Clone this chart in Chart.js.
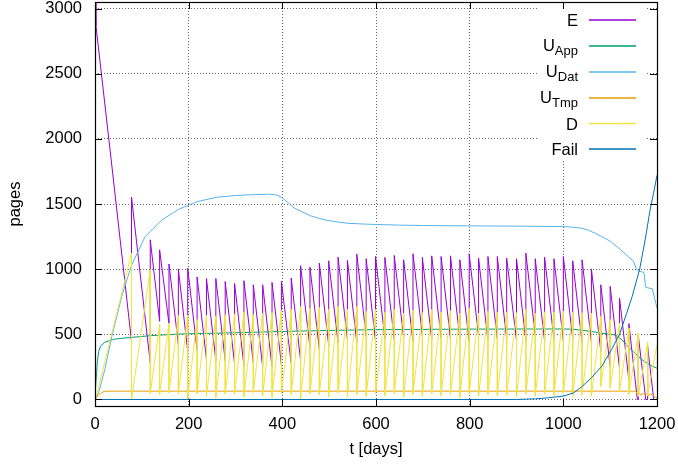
<!DOCTYPE html>
<html lang="en">
<head>
<meta charset="UTF-8">
<title>pages over time</title>
<style>
  html, body { margin: 0; padding: 0; background: #fff; }
  canvas { display: block; }
</style>
</head>
<body>
<canvas id="chart" width="678" height="465"></canvas>
<script src="https://cdn.jsdelivr.net/npm/chart.js@4"></script>
<script>
// days where the sawtooth jumps (E goes up, D drops)
const jumpT = [78, 118, 138, 158, 178, 198, 218, 238, 258, 278, 298, 318, 338, 358, 378, 398,
  419, 439, 459, 479, 499, 519, 539, 559, 579, 599, 619, 639, 659, 679, 699, 719, 739, 759, 779, 799, 819, 839, 859, 879,
  900, 920, 940, 960, 980, 1000, 1020, 1040, 1060, 1080, 1100, 1120, 1140, 1160, 1180];

// E just before / just after each jump
const eBefore = [447, 281, 600, 582, 421, 370, 375, 310, 300, 298, 275, 260, 281, 250, 250, 268,
  276, 300, 396, 386, 416, 434, 462, 437, 485, 450, 467, 460, 475, 442, 488, 460, 472, 467, 472, 442, 488, 455, 467, 467,
  455, 450, 493, 450, 462, 450, 467, 434, 442, 370, 250, 238, 148, 0, 0];
const eAfter = [1552, 1225, 1148, 1039, 1000, 1008, 940, 928, 928, 905, 890, 911, 880, 880, 898, 906,
  931, 1026, 1016, 1046, 1064, 1092, 1067, 1115, 1080, 1097, 1090, 1105, 1072, 1118, 1090, 1102, 1097, 1102, 1072, 1118, 1085, 1097, 1097, 1085,
  1080, 1123, 1080, 1092, 1080, 1097, 1064, 1072, 1000, 880, 868, 778, 582, 493, 408];
const eStartT = [0, 2, 37];
const eStartV = [3050, 2870, 1761];
const eZeroT = [1158, 1176, 1193, 1200];

// D just before / just after each jump
const dBefore = [1123, 995, 574, 587, 643, 645, 612, 643, 638, 650, 655, 668, 650, 660, 665, 682,
  690, 712, 700, 705, 690, 715, 690, 712, 675, 690, 668, 690, 660, 685, 665, 690, 668, 680, 662, 700, 660, 675, 668, 670,
  665, 690, 660, 672, 668, 675, 668, 665, 660, 638, 612, 587, 548, 510, 440];
const dAfter = [0, 46, 38, 51, 45, 10, 45, 25, 15, 43, 40, 19, 50, 30, 17, 45,
  35, 5, 45, 35, 20, 50, 20, 40, 25, 45, 30, 45, 20, 40, 25, 45, 30, 40, 15, 45, 25, 40, 30, 35,
  20, 45, 25, 40, 30, 45, 25, 35, 25, 100, 90, 60, 40, 25, 30];
const dStartT = [0, 3];
const dStartV = [0, 25];
const dEndT = [1200];
const dEndV = [420];

const appT = [0, 1, 3, 5, 8, 12, 21, 40, 64, 120, 185, 300, 400, 500, 600, 800, 1000, 1020, 1040, 1060, 1080, 1100,
  1110, 1120, 1130, 1140, 1150, 1160, 1170, 1180, 1190, 1200];
const appV = [0, 80, 180, 290, 370, 410, 440, 462, 472, 490, 503, 512, 522, 530, 536, 540, 541, 539, 531, 522, 510, 500,
  495, 475, 440, 400, 365, 330, 300, 275, 255, 240];

const datT = [0, 3, 10, 21, 36, 57, 78, 107, 143, 179, 220, 260, 300, 340, 370, 388, 398, 412, 425, 441, 460, 477, 495,
  512, 540, 570, 598, 650, 700, 800, 900, 1000, 1020, 1039, 1054, 1068, 1082, 1100, 1122, 1139, 1150, 1156, 1161,
  1172, 1176, 1190, 1200];
const datV = [0, 10, 80, 230, 485, 791, 1030, 1250, 1378, 1460, 1520, 1552, 1565, 1572, 1575, 1570, 1552, 1511, 1470,
  1442, 1410, 1391, 1375, 1365, 1352, 1347, 1343, 1338, 1335, 1332, 1330, 1327, 1322, 1314, 1298, 1276, 1250, 1215,
  1150, 1095, 1060, 1000, 985, 975, 860, 850, 700];

const tmpT = [0, 3, 8, 14, 20, 30, 1150, 1155, 1158, 1162, 1166, 1170, 1174, 1178, 1182, 1186, 1190, 1194, 1200];
const tmpV = [0, 15, 38, 52, 62, 64, 64, 62, 40, 50, 32, 48, 36, 45, 30, 42, 35, 25, 10];

const failT = [0, 900, 940, 968, 1000, 1022, 1039, 1060, 1082, 1103, 1120, 1135, 1147, 1163, 1175, 1185, 1193, 1200];
const failV = [0, 0, 5, 13, 26, 51, 97, 166, 255, 383, 500, 660, 790, 1000, 1230, 1450, 1590, 1720];

const xTicks = [0, 200, 400, 600, 800, 1000, 1200];
const yTicks = [0, 500, 1000, 1500, 2000, 2500, 3000];

const legendItems = [
  { main: 'E', sub: '', color: '#9400d3' },
  { main: 'U', sub: 'App', color: '#009e73' },
  { main: 'U', sub: 'Dat', color: '#56b4e9' },
  { main: 'U', sub: 'Tmp', color: '#e69f00' },
  { main: 'D', sub: '', color: '#f0e442' },
  { main: 'Fail', sub: '', color: '#0072b2' }
];

function pts(ts, vs) {
  return ts.map((t, i) => ({ x: t, y: vs[i] }));
}

const ePts = pts(eStartT, eStartV);
jumpT.forEach((t, i) => ePts.push({ x: t, y: eBefore[i] }, { x: t, y: eAfter[i] }));
eZeroT.forEach(t => ePts.push({ x: t, y: 0 }));
ePts.sort((a, b) => a.x - b.x);

const dPts = pts(dStartT, dStartV);
jumpT.forEach((t, i) => dPts.push({ x: t, y: dBefore[i] }, { x: t, y: dAfter[i] }));
dEndT.forEach((t, i) => dPts.push({ x: t, y: dEndV[i] }));

const FONT = '"Liberation Sans", Arial, sans-serif';
const tickFont = { family: FONT, size: 16.5 };

// gnuplot-like frame, mirrored tics, opaque key and axis labels
const gnuplotLook = {
  id: 'gnuplotLook',
  afterDatasetsDraw(chart) {
    const ctx = chart.ctx;
    const a = chart.chartArea;
    ctx.save();
    ctx.fillStyle = '#fff';
    ctx.fillRect(537, a.top, 109, 159);
    const rowY = [20, 46, 72, 98, 123.5, 149];
    legendItems.forEach((it, i) => {
      const y = rowY[i];
      ctx.fillStyle = '#000';
      ctx.textBaseline = 'alphabetic';
      ctx.textAlign = 'right';
      if (it.sub) {
        ctx.font = '13px ' + FONT;
        const sw = ctx.measureText(it.sub).width;
        ctx.fillText(it.sub, 578, y + 9);
        ctx.font = '16.5px ' + FONT;
        ctx.fillText(it.main, 578 - sw, y + 4.5);
      } else {
        ctx.font = '16.5px ' + FONT;
        ctx.fillText(it.main, 578, y + 6);
      }
      ctx.strokeStyle = it.color;
      ctx.lineWidth = 1.3;
      ctx.beginPath();
      ctx.moveTo(589, y);
      ctx.lineTo(636, y);
      ctx.stroke();
    });
    ctx.restore();
  },
  afterDraw(chart) {
    const ctx = chart.ctx;
    const a = chart.chartArea;
    const xs = chart.scales.x, ys = chart.scales.y;
    ctx.save();
    ctx.strokeStyle = '#000';
    ctx.lineWidth = 1;
    ctx.beginPath();
    xTicks.forEach(v => {
      const px = Math.round(xs.getPixelForValue(v)) + 0.5;
      ctx.moveTo(px, a.bottom); ctx.lineTo(px, a.bottom - 7);
      ctx.moveTo(px, a.top); ctx.lineTo(px, a.top + 7);
    });
    yTicks.forEach(v => {
      const py = Math.round(ys.getPixelForValue(v)) + 0.5;
      ctx.moveTo(a.left, py); ctx.lineTo(a.left + 7, py);
      ctx.moveTo(a.right, py); ctx.lineTo(a.right - 7, py);
    });
    ctx.stroke();
    ctx.lineWidth = 1.2;
    ctx.strokeRect(a.left + 0.5, a.top + 0.5, a.right - a.left, a.bottom - a.top);

    ctx.fillStyle = '#000';
    ctx.font = '16.5px ' + FONT;
    ctx.textAlign = 'center';
    ctx.textBaseline = 'alphabetic';
    ctx.fillText('t [days]', (a.left + a.right) / 2, 454);
    ctx.translate(19.5, (a.top + a.bottom) / 2);
    ctx.rotate(-Math.PI / 2);
    ctx.fillText('pages', 0, 0);
    ctx.restore();
  }
};

const line = (label, data, color, order) => ({
  label, data, borderColor: color, backgroundColor: color,
  borderWidth: 1, pointRadius: 0, tension: 0, fill: false, order
});

new Chart(document.getElementById('chart'), {
  type: 'line',
  data: {
    datasets: [
      line('E', ePts, '#9400d3', 6),
      line('U_App', pts(appT, appV), '#009e73', 5),
      line('U_Dat', pts(datT, datV), '#56b4e9', 4),
      line('U_Tmp', pts(tmpT, tmpV), '#e69f00', 3),
      line('D', dPts, '#f0e442', 2),
      line('Fail', pts(failT, failV), '#0072b2', 1)
    ]
  },
  options: {
    responsive: false,
    devicePixelRatio: 1,
    animation: false,
    layout: { padding: { top: 2, right: 21, left: 0, bottom: 0 } },
    plugins: { legend: { display: false }, tooltip: { enabled: false } },
    scales: {
      x: {
        type: 'linear', min: 0, max: 1200,
        afterBuildTicks: s => { s.ticks = xTicks.map(v => ({ value: v })); },
        afterFit: s => { s.height = 59; s.paddingLeft = 0; s.paddingRight = 0; },
        ticks: { color: '#000', font: tickFont, padding: 9, maxRotation: 0, autoSkip: false, callback: v => String(v) },
        grid: { color: 'rgba(0,0,0,0.6)', lineWidth: 1, drawTicks: false },
        border: { display: false, dash: [1, 2] }
      },
      y: {
        type: 'linear', min: -50, max: 3050,
        afterBuildTicks: s => { s.ticks = yTicks.map(v => ({ value: v })); },
        afterFit: s => { s.width = 95; s.paddingTop = 0; s.paddingBottom = 0; },
        ticks: { color: '#000', font: tickFont, padding: 13, callback: v => String(v) },
        grid: { color: 'rgba(0,0,0,0.6)', lineWidth: 1, drawTicks: false },
        border: { display: false, dash: [1, 2] }
      }
    }
  },
  plugins: [gnuplotLook]
});
</script>
</body>
</html>
